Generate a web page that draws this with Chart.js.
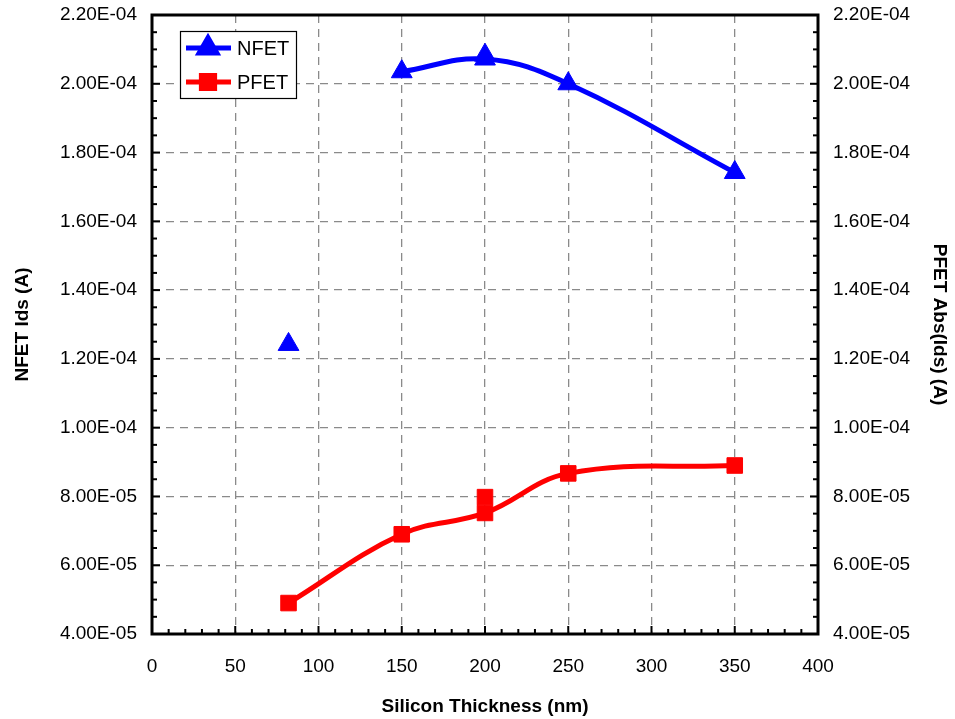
<!DOCTYPE html>
<html><head><meta charset="utf-8">
<script src="https://cdn.jsdelivr.net/npm/chart.js@4/dist/chart.umd.min.js"></script>
<style>html,body{margin:0;padding:0;background:#fff}#wrap{width:955px;height:719px}</style>
</head><body><div id="wrap"><canvas id="c" width="955" height="719"></canvas></div>
<script>
// ---- data ----
const nfetLineX = [150, 200, 250, 350];
const nfetLineY = [2.035e-4, 2.072e-4, 2.0e-4, 1.742e-4];
const nfetExtraX = [82, 200];
const nfetExtraY = [1.242e-4, 2.083e-4];
const pfetLineX = [82, 150, 200, 250, 350];
const pfetLineY = [4.9e-5, 6.9e-5, 7.52e-5, 8.67e-5, 8.9e-5];
const pfetExtraX = [200];
const pfetExtraY = [7.98e-5];
const xTicks = [0, 50, 100, 150, 200, 250, 300, 350, 400];
const yTicks = [4e-5, 6e-5, 8e-5, 1e-4, 1.2e-4, 1.4e-4, 1.6e-4, 1.8e-4, 2e-4, 2.2e-4];
const seriesNames = ['NFET', 'PFET'];

const pts = (xs, ys) => xs.map((x, i) => ({x: x, y: ys[i]}));
function fmtExp(v) {
  const s = Number(v).toExponential(2).toUpperCase(); // e.g. 2.20E-4
  const m = s.match(/^(.*)E([+-])(\d+)$/);
  return m[1] + 'E' + m[2] + m[3].padStart(2, '0');
}
const FONT = "'Liberation Sans', Arial, sans-serif";
const BLUE = '#0000FF', RED = '#FF0000';

const framePlugin = {
  id: 'frame',
  afterDatasetsDraw(chart) {
    const {ctx, chartArea: a, scales} = chart;
    ctx.save();
    ctx.strokeStyle = '#000';
    ctx.lineWidth = 2;
    const xs = scales.x;
    for (let v = 0; v <= 400; v += 10) {
      const px = xs.getPixelForValue(v);
      const len = (v % 50 === 0) ? 8 : 5;
      ctx.beginPath(); ctx.moveTo(px, a.bottom); ctx.lineTo(px, a.bottom - len); ctx.stroke();
    }
    const yl = scales.y, yr = scales.y2;
    for (let k = 0; k <= 36; k++) {
      const v = 4e-5 + k * 5e-6;
      const len = (k % 4 === 0) ? 8 : 5;
      const p1 = yl.getPixelForValue(v), p2 = yr.getPixelForValue(v);
      ctx.beginPath(); ctx.moveTo(a.left, p1); ctx.lineTo(a.left + len, p1); ctx.stroke();
      ctx.beginPath(); ctx.moveTo(a.right, p2); ctx.lineTo(a.right - len, p2); ctx.stroke();
    }
    ctx.lineWidth = 3;
    ctx.strokeRect(a.left, a.top, a.right - a.left, a.bottom - a.top);
    // legend
    const lx = 180, ly = 31, lw = 116, lh = 67;
    ctx.fillStyle = '#fff';
    ctx.fillRect(lx, ly, lw, lh);
    ctx.lineWidth = 1.2;
    ctx.strokeStyle = '#000';
    ctx.strokeRect(lx + 0.5, ly + 0.5, lw, lh);
    const ds = chart.data.datasets;
    [0, 1].forEach((i, k) => {
      const d = ds[i];
      const yy = ly + 17 + k * 34;
      ctx.strokeStyle = d.borderColor; ctx.lineWidth = 5;
      ctx.beginPath(); ctx.moveTo(lx + 6, yy); ctx.lineTo(lx + 51, yy); ctx.stroke();
      Chart.helpers.drawPoint(ctx, {pointStyle: d.pointStyle, radius: d.pointRadius * 0.85, borderWidth: 1, rotation: 0}, lx + 28, yy);
      ctx.fillStyle = d.borderColor; ctx.fill();
      ctx.fillStyle = '#000';
      ctx.font = '20px ' + FONT;
      ctx.textBaseline = 'middle'; ctx.textAlign = 'left';
      ctx.fillText(d.label, lx + 57, yy + 1);
    });
    ctx.restore();
  }
};

const markerCommon = (color, style, r) => ({
  borderColor: color, backgroundColor: color, pointBackgroundColor: color, pointBorderColor: color,
  pointStyle: style, pointRadius: r, pointHoverRadius: r, pointBorderWidth: 1
});

const gridCfg = {color: '#8a8a8a', lineWidth: 1.3, drawTicks: false};
const tickFont = {family: FONT, size: 19};
const titleFont = {family: FONT, size: 19, weight: 'bold'};
const fitY = w => s => { s.width = w; s.paddingTop = 0; s.paddingBottom = 0; };

new Chart(document.getElementById('c'), {
  type: 'scatter',
  data: {
    datasets: [
      Object.assign({label: seriesNames[0], data: pts(nfetLineX, nfetLineY), showLine: true, borderWidth: 5, tension: 0.4, yAxisID: 'y'}, markerCommon(BLUE, 'triangle', 12)),
      Object.assign({label: seriesNames[1], data: pts(pfetLineX, pfetLineY), showLine: true, borderWidth: 5, tension: 0.4, yAxisID: 'y2'}, markerCommon(RED, 'rect', 11)),
      Object.assign({label: seriesNames[0] + ' extra', data: pts(nfetExtraX, nfetExtraY), showLine: false, yAxisID: 'y'}, markerCommon(BLUE, 'triangle', 12)),
      Object.assign({label: seriesNames[1] + ' extra', data: pts(pfetExtraX, pfetExtraY), showLine: false, yAxisID: 'y2'}, markerCommon(RED, 'rect', 11))
    ]
  },
  options: {
    responsive: false, animation: false,
    layout: {padding: {top: 15, left: 0, right: 0, bottom: 0}},
    plugins: {legend: {display: false}, tooltip: {enabled: false}},
    scales: {
      x: {
        type: 'linear', min: 0, max: 400,
        afterBuildTicks: s => { s.ticks = xTicks.map(v => ({value: v})); },
        afterFit: s => { s.height = 85; s.paddingLeft = 0; s.paddingRight = 0; },
        grid: gridCfg,
        border: {display: false, dash: [8, 6]},
        ticks: {padding: 21, color: '#000', font: tickFont, maxRotation: 0},
        title: {display: true, text: 'Silicon Thickness (nm)', color: '#000', font: titleFont, padding: {top: 14, bottom: 1}}
      },
      y: {
        type: 'linear', position: 'left', min: 4e-5, max: 2.2e-4,
        afterBuildTicks: s => { s.ticks = yTicks.map(v => ({value: v})); },
        afterFit: fitY(152),
        grid: gridCfg,
        border: {display: false, dash: [8, 6]},
        ticks: {padding: 15, color: '#000', font: tickFont, callback: v => fmtExp(v)},
        title: {display: true, text: 'NFET Ids (A)', color: '#000', font: titleFont, padding: {top: 11, bottom: 4}}
      },
      y2: {
        type: 'linear', position: 'right', min: 4e-5, max: 2.2e-4,
        afterBuildTicks: s => { s.ticks = yTicks.map(v => ({value: v})); },
        afterFit: fitY(137),
        grid: {display: false, drawTicks: false},
        border: {display: false},
        ticks: {padding: 15, color: '#000', font: tickFont, callback: v => fmtExp(v)},
        title: {display: true, text: 'PFET Abs(Ids) (A)', color: '#000', font: titleFont, padding: {top: 4, bottom: 4}}
      }
    }
  },
  plugins: [framePlugin]
});
</script>
</body></html>
